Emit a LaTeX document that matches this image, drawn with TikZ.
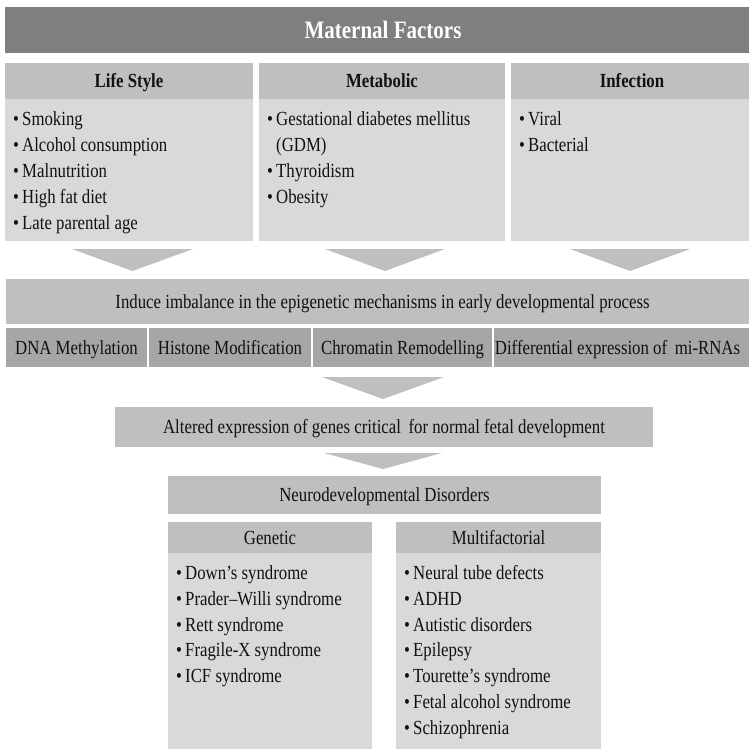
\documentclass[tikz,border=0pt]{standalone}
\usepackage{fontspec}
\setmainfont{Liberation Serif}[FakeStretch=0.84]
\usetikzlibrary{calc}
\definecolor{hdgrey}{HTML}{7F7F7F}
\definecolor{bandgrey}{HTML}{BFBFBF}
\definecolor{bodygrey}{HTML}{D9D9D9}
\definecolor{rowgrey}{HTML}{A6A6A6}
\definecolor{txt}{HTML}{111111}
\newcommand{\itm}[1]{\makebox[9pt][l]{\textbullet}#1}
\newcommand{\itmcont}[1]{\makebox[9pt][l]{}#1}
\begin{document}
\begin{tikzpicture}[x=1pt,y=-1pt,
  rect/.style={anchor=north west,inner sep=0pt,outer sep=0pt,draw=none},
  band/.style={rect,fill=bandgrey},
  bodybox/.style={rect,fill=bodygrey},
  rowbox/.style={rect,fill=rowgrey},
  maintitle/.style={anchor=base,inner sep=0pt,text=white,font=\fontsize{25}{28}\selectfont\bfseries},
  boldtitle/.style={anchor=base,inner sep=0pt,text=txt,font=\fontsize{20}{24}\selectfont\bfseries},
  plain/.style={anchor=base,inner sep=0pt,text=txt,font=\fontsize{20}{24}\selectfont},
  item/.style={anchor=base west,inner sep=0pt,text=txt,font=\fontsize{20}{24}\selectfont},
  chevron/.style={fill=bandgrey}]
\useasboundingbox (0,0) rectangle (749,749);

% Maternal factors header
\node[rect,fill=hdgrey,minimum width=744pt,minimum height=46pt] (hd) at (5,7) {};
\node[maintitle] (hdt) at ($(hd.center)+(6,8.5)$) {Maternal Factors};

% three factor boxes
\node[band,minimum width=248pt,minimum height=36pt] (ls) at (5,63) {};
\node[bodybox,minimum width=248pt,minimum height=142pt] (lsb) at (5,99) {};
\node[band,minimum width=246pt,minimum height=36pt] (mb) at (259,63) {};
\node[bodybox,minimum width=246pt,minimum height=142pt] (mbb) at (259,99) {};
\node[band,minimum width=238pt,minimum height=36pt] (inf) at (511,63) {};
\node[bodybox,minimum width=238pt,minimum height=142pt] (infb) at (511,99) {};

\node[boldtitle] (lst) at ($(ls.center)+(0,7)$) {Life Style};
\node[boldtitle] (mbt) at ($(mb.center)+(0,7)$) {Metabolic};
\node[boldtitle] (inft) at ($(inf.center)+(2,7)$) {Infection};

\node[item] (ls1) at (13,125.5) {\itm{Smoking}};
\node[item] (ls2) at (13,151.5) {\itm{Alcohol consumption}};
\node[item] (ls3) at (13,177.5) {\itm{Malnutrition}};
\node[item] (ls4) at (13,203.5) {\itm{High fat diet}};
\node[item] (ls5) at (13,229.5) {\itm{Late parental age}};

\node[item] (mb1) at (267,125.5) {\itm{Gestational diabetes mellitus}};
\node[item] (mb2) at (267,151.5) {\itmcont{(GDM)}};
\node[item] (mb3) at (267,177.5) {\itm{Thyroidism}};
\node[item] (mb4) at (267,203.5) {\itm{Obesity}};

\node[item] (in1) at (519,125.5) {\itm{Viral}};
\node[item] (in2) at (519,151.5) {\itm{Bacterial}};

% chevrons
\fill[chevron] (72,249) -- (193,249) -- (132.5,271) -- cycle;
\fill[chevron] (325,249) -- (445,249) -- (385,271) -- cycle;
\fill[chevron] (570,249) -- (690,249) -- (630,271) -- cycle;

% induce imbalance
\node[band,minimum width=743pt,minimum height=45pt] (ind) at (6,279) {};
\node[plain] (indt) at ($(ind.center)+(5,6.5)$) {Induce imbalance in the epigenetic mechanisms in early developmental process};

% mechanisms row
\node[rowbox,minimum width=141pt,minimum height=39pt] (m1) at (6,328) {};
\node[rowbox,minimum width=162pt,minimum height=39pt] (m2) at (149,328) {};
\node[rowbox,minimum width=179pt,minimum height=39pt] (m3) at (313,328) {};
\node[rowbox,minimum width=255pt,minimum height=39pt] (m4) at (494,328) {};
\node[plain] (m1t) at ($(m1.center)+(0,6.5)$) {DNA Methylation};
\node[plain] (m2t) at ($(m2.center)+(0,6.5)$) {Histone Modification};
\node[plain] (m3t) at ($(m3.center)+(0,6.5)$) {Chromatin Remodelling};
\node[plain] (m4t) at ($(m4.center)+(-4,6.5)$) {Differential expression of\, mi-RNAs};

\fill[chevron] (322,377) -- (444,377) -- (383,399) -- cycle;

% altered expression
\node[band,minimum width=538pt,minimum height=40pt] (alt) at (115,407) {};
\node[plain] (altt) at ($(alt.center)+(0,6.5)$) {Altered expression of genes critical\, for normal fetal development};

\fill[chevron] (324,453) -- (442,453) -- (383,469) -- cycle;

% neurodevelopmental disorders
\node[band,minimum width=433pt,minimum height=38pt] (neu) at (168,476) {};
\node[plain] (neut) at ($(neu.center)+(0,6.5)$) {Neurodevelopmental Disorders};

\node[band,minimum width=204pt,minimum height=31pt] (gh) at (168,522) {};
\node[bodybox,minimum width=204pt,minimum height=196pt] (gb) at (168,553) {};
\node[band,minimum width=205pt,minimum height=31pt] (mh) at (396,522) {};
\node[bodybox,minimum width=205pt,minimum height=196pt] (mbx) at (396,553) {};
\node[plain] (ght) at ($(gh.center)+(0,7)$) {Genetic};
\node[plain] (mht) at ($(mh.center)+(0,7)$) {Multifactorial};

\node[item] (g1) at (176,579.5) {\itm{Down’s syndrome}};
\node[item] (g2) at (176,605.3) {\itm{Prader–Willi syndrome}};
\node[item] (g3) at (176,631.1) {\itm{Rett syndrome}};
\node[item] (g4) at (176,656.9) {\itm{Fragile-X syndrome}};
\node[item] (g5) at (176,682.7) {\itm{ICF syndrome}};

\node[item] (f1) at (404,579.5) {\itm{Neural tube defects}};
\node[item] (f2) at (404,605.3) {\itm{ADHD}};
\node[item] (f3) at (404,631.1) {\itm{Autistic disorders}};
\node[item] (f4) at (404,656.9) {\itm{Epilepsy}};
\node[item] (f5) at (404,682.7) {\itm{Tourette’s syndrome}};
\node[item] (f6) at (404,708.5) {\itm{Fetal alcohol syndrome}};
\node[item] (f7) at (404,734.3) {\itm{Schizophrenia}};
\end{tikzpicture}
\end{document}
